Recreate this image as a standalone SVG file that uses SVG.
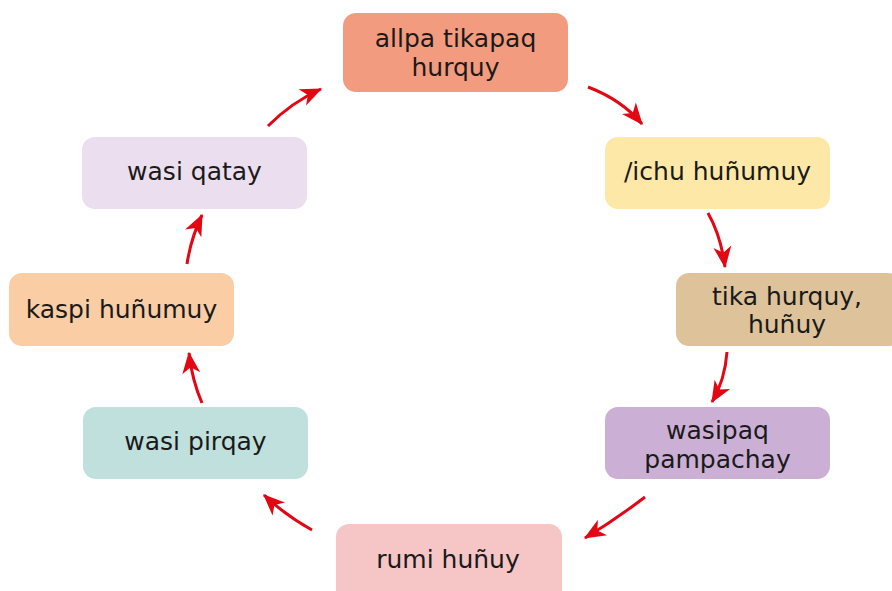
<svg xmlns="http://www.w3.org/2000/svg" width="892" height="591" viewBox="0 0 892 591">
<defs>
<marker id="ah" markerUnits="userSpaceOnUse" markerWidth="24" markerHeight="24" viewBox="-18 -9 20 18" refX="0" refY="0" orient="auto">
<path d="M1,0 L-17,-7.5 L-12,0 L-17,7.5 Z" fill="#e30613"/>
</marker>
</defs>
<style>
.box{stroke:none}
.t{font-family:"DejaVu Sans","Liberation Sans",sans-serif;font-size:25px;fill:#1a1a1a;text-anchor:middle}
.c{fill:none;stroke:#e30613;stroke-width:3;marker-end:url(#ah)}
</style>
<rect width="892" height="591" fill="#ffffff"/>
<g id="n1"><rect class="box" x="343" y="13" width="225" height="79" rx="13" fill="#f39b7e"/><text class="t" x="455.5" y="47">allpa tikapaq</text><text class="t" x="455.5" y="76">hurquy</text></g>
<g id="n2"><rect class="box" x="605" y="137" width="225" height="72" rx="13" fill="#fee8a8"/><text class="t" x="717.5" y="180">/ichu huñumuy</text></g>
<g id="n3"><rect class="box" x="676" y="273" width="225" height="73" rx="13" fill="#dec39a"/><text class="t" x="787" y="305">tika hurquy,</text><text class="t" x="787" y="333">huñuy</text></g>
<g id="n4"><rect class="box" x="605" y="407" width="225" height="72" rx="13" fill="#cbafd5"/><text class="t" x="717.5" y="439">wasipaq</text><text class="t" x="717.5" y="468">pampachay</text></g>
<g id="n5"><rect class="box" x="336" y="524" width="226" height="80" rx="13" fill="#f6c5c5"/><text class="t" x="448" y="568">rumi huñuy</text></g>
<g id="n6"><rect class="box" x="83" y="407" width="225" height="72" rx="13" fill="#c0e0dd"/><text class="t" x="195.5" y="450">wasi pirqay</text></g>
<g id="n7"><rect class="box" x="9" y="273" width="225" height="73" rx="13" fill="#facda4"/><text class="t" x="121.5" y="318">kaspi huñumuy</text></g>
<g id="n8"><rect class="box" x="82" y="137" width="225" height="72" rx="13" fill="#ebdeee"/><text class="t" x="194.5" y="180">wasi qatay</text></g>
<g id="connectors">
<path class="c" d="M588,87 Q622,100 642,124"/>
<path class="c" d="M708,213 Q721,236 725,267"/>
<path class="c" d="M727,352 Q725,380 712,402"/>
<path class="c" d="M645,497 Q615,520 585,538"/>
<path class="c" d="M312,530 Q285,515 264,495"/>
<path class="c" d="M202,403 Q192,380 189,353"/>
<path class="c" d="M187,264 Q191,238 202,215"/>
<path class="c" d="M268,126 Q292,102 321,89"/>
</g>
</svg>
